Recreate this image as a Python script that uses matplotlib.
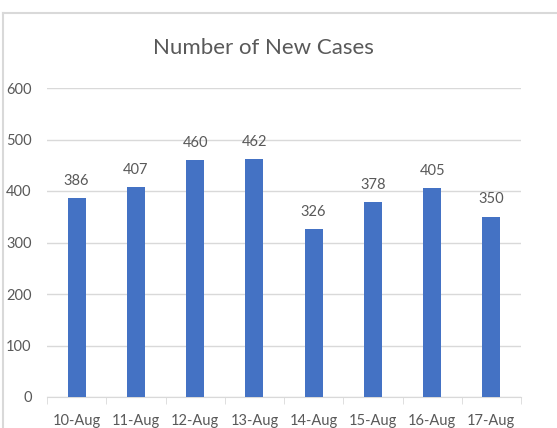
import matplotlib
matplotlib.use('Agg')
import matplotlib.pyplot as plt
from matplotlib.lines import Line2D

dates = ['10-Aug', '11-Aug', '12-Aug', '13-Aug', '14-Aug', '15-Aug', '16-Aug', '17-Aug']
new_cases = [386, 407, 460, 462, 326, 378, 405, 350]
y_ticks = [0, 100, 200, 300, 400, 500, 600]


def main():
    plt.rcParams['font.family'] = ['Lato', 'DejaVu Sans']
    grey = '#595959'

    fig = plt.figure(figsize=(5.57, 4.28), dpi=100)
    W, H = 557, 428

    # chart frame (cropped on the right and bottom)
    fig.add_artist(Line2D([3 / W, 3 / W], [0, 1 - 13 / H], color='#d9d9d9', lw=1.5))
    fig.add_artist(Line2D([3 / W, 1], [1 - 13 / H, 1 - 13 / H], color='#d9d9d9', lw=1.5))

    ax = fig.add_axes([47 / W, 31 / H, (521 - 47) / W, (397 - 88) / H])
    x = range(len(dates))
    ax.bar(x, new_cases, width=0.3, color='#4472c4', zorder=3)
    for i, v in enumerate(new_cases):
        ax.text(i, v + 20, str(v), ha='center', va='bottom', fontsize=10.5, color=grey)

    ax.set_xlim(-0.5, len(dates) - 0.5)
    ax.set_ylim(0, 600)
    ax.set_yticks(y_ticks)
    ax.set_xticks(list(x))
    ax.set_xticklabels(dates)
    ax.grid(axis='y', color='#d9d9d9', lw=1, zorder=0)
    for s in ['top', 'right', 'left']:
        ax.spines[s].set_visible(False)
    ax.spines['bottom'].set_color('#d9d9d9')
    ax.tick_params(axis='y', length=0, pad=11, labelsize=10.5, labelcolor=grey)
    ax.tick_params(axis='x', length=0, pad=12, labelsize=10.5, labelcolor=grey)
    # minor ticks at category boundaries
    ax.set_xticks([i - 0.5 for i in range(len(dates) + 1)], minor=True)
    ax.tick_params(axis='x', which='minor', length=5, color='#d9d9d9', direction='out')

    fig.text(263 / W, 1 - 48 / H, 'Number of New Cases', ha='center', va='center',
             fontsize=16, color=grey)

    fig.savefig('out.png', dpi=100)


if __name__ == '__main__':
    main()
